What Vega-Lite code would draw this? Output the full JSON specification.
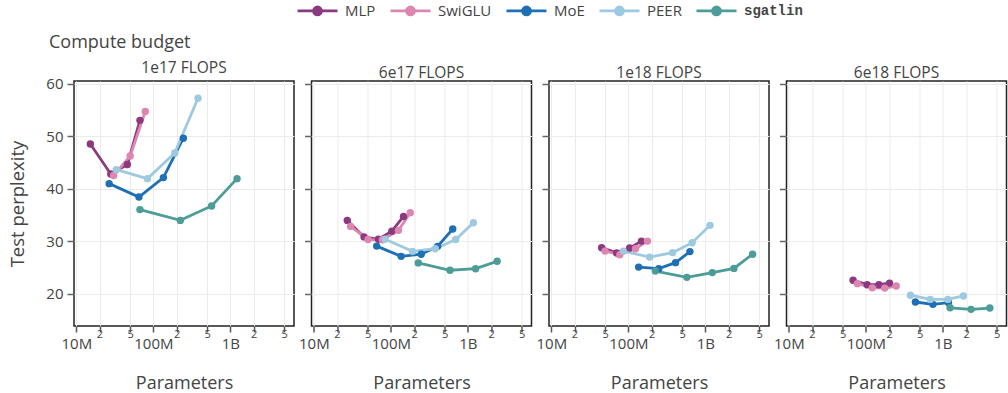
{
  "$schema": "https://vega.github.io/schema/vega-lite/v6.json",
  "padding": {"left": 8, "top": 3, "right": 0, "bottom": 0},
  "background": "white",
  "config": {
    "font": "Open Sans",
    "view": {"stroke": "#222", "strokeWidth": 1.5},
    "title": {"color": "#444", "fontWeight": "normal"}
  },
  "title": {"text": "Compute budget", "anchor": "start", "frame": "group", "fontSize": 18, "fontWeight": "normal", "color": "#444", "offset": 8, "dx": -25, "dy": 57},
  "data": {"values": [
    {"budget": "1e17 FLOPS", "model": "MLP", "params": 15.2e6, "ppl": 48.5},
    {"budget": "1e17 FLOPS", "model": "MLP", "params": 28e6, "ppl": 42.8},
    {"budget": "1e17 FLOPS", "model": "MLP", "params": 46e6, "ppl": 44.6},
    {"budget": "1e17 FLOPS", "model": "MLP", "params": 67e6, "ppl": 53.0},
    {"budget": "1e17 FLOPS", "model": "SwiGLU", "params": 30.5e6, "ppl": 42.5},
    {"budget": "1e17 FLOPS", "model": "SwiGLU", "params": 50e6, "ppl": 46.2},
    {"budget": "1e17 FLOPS", "model": "SwiGLU", "params": 78.5e6, "ppl": 54.7},
    {"budget": "1e17 FLOPS", "model": "MoE", "params": 26.7e6, "ppl": 40.95},
    {"budget": "1e17 FLOPS", "model": "MoE", "params": 65e6, "ppl": 38.4},
    {"budget": "1e17 FLOPS", "model": "MoE", "params": 135e6, "ppl": 42.1},
    {"budget": "1e17 FLOPS", "model": "MoE", "params": 245e6, "ppl": 49.6},
    {"budget": "1e17 FLOPS", "model": "PEER", "params": 33e6, "ppl": 43.6},
    {"budget": "1e17 FLOPS", "model": "PEER", "params": 84e6, "ppl": 41.9},
    {"budget": "1e17 FLOPS", "model": "PEER", "params": 190e6, "ppl": 46.8},
    {"budget": "1e17 FLOPS", "model": "PEER", "params": 380e6, "ppl": 57.2},
    {"budget": "1e17 FLOPS", "model": "sgatlin", "params": 67e6, "ppl": 36.0},
    {"budget": "1e17 FLOPS", "model": "sgatlin", "params": 224e6, "ppl": 33.95},
    {"budget": "1e17 FLOPS", "model": "sgatlin", "params": 571e6, "ppl": 36.7},
    {"budget": "1e17 FLOPS", "model": "sgatlin", "params": 1.22e9, "ppl": 41.9},

    {"budget": "6e17 FLOPS", "model": "MLP", "params": 27.2e6, "ppl": 33.95},
    {"budget": "6e17 FLOPS", "model": "MLP", "params": 44.9e6, "ppl": 30.8},
    {"budget": "6e17 FLOPS", "model": "MLP", "params": 68.9e6, "ppl": 30.35},
    {"budget": "6e17 FLOPS", "model": "MLP", "params": 103e6, "ppl": 31.9},
    {"budget": "6e17 FLOPS", "model": "MLP", "params": 146e6, "ppl": 34.7},
    {"budget": "6e17 FLOPS", "model": "SwiGLU", "params": 30e6, "ppl": 32.8},
    {"budget": "6e17 FLOPS", "model": "SwiGLU", "params": 50.6e6, "ppl": 30.3},
    {"budget": "6e17 FLOPS", "model": "SwiGLU", "params": 77.6e6, "ppl": 30.25},
    {"budget": "6e17 FLOPS", "model": "SwiGLU", "params": 125.6e6, "ppl": 32.05},
    {"budget": "6e17 FLOPS", "model": "SwiGLU", "params": 178.6e6, "ppl": 35.4},
    {"budget": "6e17 FLOPS", "model": "MoE", "params": 65.5e6, "ppl": 29.05},
    {"budget": "6e17 FLOPS", "model": "MoE", "params": 136e6, "ppl": 27.1},
    {"budget": "6e17 FLOPS", "model": "MoE", "params": 248e6, "ppl": 27.5},
    {"budget": "6e17 FLOPS", "model": "MoE", "params": 405e6, "ppl": 29.0},
    {"budget": "6e17 FLOPS", "model": "MoE", "params": 636e6, "ppl": 32.3},
    {"budget": "6e17 FLOPS", "model": "PEER", "params": 84.4e6, "ppl": 30.35},
    {"budget": "6e17 FLOPS", "model": "PEER", "params": 191e6, "ppl": 28.05},
    {"budget": "6e17 FLOPS", "model": "PEER", "params": 378e6, "ppl": 28.55},
    {"budget": "6e17 FLOPS", "model": "PEER", "params": 695e6, "ppl": 30.3},
    {"budget": "6e17 FLOPS", "model": "PEER", "params": 1.18e9, "ppl": 33.5},
    {"budget": "6e17 FLOPS", "model": "sgatlin", "params": 227e6, "ppl": 25.85},
    {"budget": "6e17 FLOPS", "model": "sgatlin", "params": 586e6, "ppl": 24.45},
    {"budget": "6e17 FLOPS", "model": "sgatlin", "params": 1.26e9, "ppl": 24.75},
    {"budget": "6e17 FLOPS", "model": "sgatlin", "params": 2.4e9, "ppl": 26.15},

    {"budget": "1e18 FLOPS", "model": "MLP", "params": 45e6, "ppl": 28.75},
    {"budget": "1e18 FLOPS", "model": "MLP", "params": 70.5e6, "ppl": 27.75},
    {"budget": "1e18 FLOPS", "model": "MLP", "params": 104e6, "ppl": 28.7},
    {"budget": "1e18 FLOPS", "model": "MLP", "params": 148e6, "ppl": 30.0},
    {"budget": "1e18 FLOPS", "model": "SwiGLU", "params": 49.8e6, "ppl": 28.1},
    {"budget": "1e18 FLOPS", "model": "SwiGLU", "params": 77.6e6, "ppl": 27.4},
    {"budget": "1e18 FLOPS", "model": "SwiGLU", "params": 124e6, "ppl": 28.55},
    {"budget": "1e18 FLOPS", "model": "SwiGLU", "params": 177e6, "ppl": 30.0},
    {"budget": "1e18 FLOPS", "model": "MoE", "params": 136e6, "ppl": 25.05},
    {"budget": "1e18 FLOPS", "model": "MoE", "params": 248e6, "ppl": 24.75},
    {"budget": "1e18 FLOPS", "model": "MoE", "params": 410e6, "ppl": 25.9},
    {"budget": "1e18 FLOPS", "model": "MoE", "params": 630e6, "ppl": 28.0},
    {"budget": "1e18 FLOPS", "model": "PEER", "params": 86e6, "ppl": 28.1},
    {"budget": "1e18 FLOPS", "model": "PEER", "params": 189e6, "ppl": 26.95},
    {"budget": "1e18 FLOPS", "model": "PEER", "params": 375e6, "ppl": 27.8},
    {"budget": "1e18 FLOPS", "model": "PEER", "params": 673e6, "ppl": 29.7},
    {"budget": "1e18 FLOPS", "model": "PEER", "params": 1.15e9, "ppl": 33.0},
    {"budget": "1e18 FLOPS", "model": "sgatlin", "params": 224e6, "ppl": 24.3},
    {"budget": "1e18 FLOPS", "model": "sgatlin", "params": 575e6, "ppl": 23.1},
    {"budget": "1e18 FLOPS", "model": "sgatlin", "params": 1.23e9, "ppl": 24.0},
    {"budget": "1e18 FLOPS", "model": "sgatlin", "params": 2.35e9, "ppl": 24.8},
    {"budget": "1e18 FLOPS", "model": "sgatlin", "params": 4.1e9, "ppl": 27.5},

    {"budget": "6e18 FLOPS", "model": "MLP", "params": 68.3e6, "ppl": 22.55},
    {"budget": "6e18 FLOPS", "model": "MLP", "params": 104e6, "ppl": 21.7},
    {"budget": "6e18 FLOPS", "model": "MLP", "params": 148e6, "ppl": 21.7},
    {"budget": "6e18 FLOPS", "model": "MLP", "params": 203e6, "ppl": 22.0},
    {"budget": "6e18 FLOPS", "model": "SwiGLU", "params": 77.6e6, "ppl": 21.9},
    {"budget": "6e18 FLOPS", "model": "SwiGLU", "params": 121e6, "ppl": 21.1},
    {"budget": "6e18 FLOPS", "model": "SwiGLU", "params": 176e6, "ppl": 21.05},
    {"budget": "6e18 FLOPS", "model": "SwiGLU", "params": 248e6, "ppl": 21.45},
    {"budget": "6e18 FLOPS", "model": "MoE", "params": 440e6, "ppl": 18.4},
    {"budget": "6e18 FLOPS", "model": "MoE", "params": 743e6, "ppl": 17.95},
    {"budget": "6e18 FLOPS", "model": "MoE", "params": 1.18e9, "ppl": 18.3},
    {"budget": "6e18 FLOPS", "model": "PEER", "params": 379e6, "ppl": 19.7},
    {"budget": "6e18 FLOPS", "model": "PEER", "params": 686e6, "ppl": 18.9},
    {"budget": "6e18 FLOPS", "model": "PEER", "params": 1.16e9, "ppl": 18.9},
    {"budget": "6e18 FLOPS", "model": "PEER", "params": 1.85e9, "ppl": 19.55},
    {"budget": "6e18 FLOPS", "model": "sgatlin", "params": 1.24e9, "ppl": 17.3},
    {"budget": "6e18 FLOPS", "model": "sgatlin", "params": 2.32e9, "ppl": 17.0},
    {"budget": "6e18 FLOPS", "model": "sgatlin", "params": 4.07e9, "ppl": 17.25}
  ]},
  "bounds": "flush",
  "spacing": 17.5,
  "hconcat": [
    {
      "width": 220, "height": 245,
      "title": {"text": "1e17 FLOPS", "anchor": "middle", "fontSize": 15.5, "offset": 0},
      "transform": [{"filter": "datum.budget == '1e17 FLOPS'"}],
      "mark": {"type": "line", "strokeWidth": 2.8, "point": {"filled": true, "size": 55, "opacity": 1}},
      "encoding": {
        "x": {"field": "params", "type": "quantitative", "scale": {"type": "log", "domain": [9.33e6, 6.7e9], "nice": false},
          "axis": {"values": [1e7, 2e7, 5e7, 1e8, 2e8, 5e8, 1e9, 2e9, 5e9],
            "labelExpr": "datum.value == 1e7 ? '10M' : datum.value == 1e8 ? '100M' : datum.value == 1e9 ? '1B' : datum.value < 1e8 ? format(datum.value/1e7, 'd') : datum.value < 1e9 ? format(datum.value/1e8, 'd') : format(datum.value/1e9, 'd')",
            "labelFontSize": {"condition": {"test": "datum.value == 1e7 || datum.value == 1e8 || datum.value == 1e9", "value": 15}, "value": 11},
            "labelPadding": {"condition": {"test": "datum.value == 1e7 || datum.value == 1e8 || datum.value == 1e9", "value": 4}, "value": -4},
            "labelColor": "#444", "labelOverlap": false, "labelFlush": false, "labelBound": false,
            "grid": true, "gridColor": "#ebebeb", "domain": false, "tickColor": "#555", "tickSize": 6, "tickWidth": 1.5,
            "title": "Parameters", "titleFontSize": 18, "titleFontWeight": "normal", "titleColor": "#444", "titlePadding": 23}},
        "y": {"field": "ppl", "type": "quantitative", "scale": {"domain": [13.83, 60.5], "nice": false, "zero": false},
          "axis": {"values": [20, 30, 40, 50, 60], "title": "Test perplexity", "titleFontSize": 18.5, "titleFontWeight": "normal", "titleColor": "#444", "titlePadding": 18,
            "labelFontSize": 15, "labelColor": "#444", "labelPadding": 4, "tickSize": 7, "tickColor": "#666", "tickWidth": 1.5,
            "grid": true, "gridColor": "#ebebeb", "domain": false}},
        "color": {"field": "model", "type": "nominal",
          "scale": {"domain": ["MLP", "SwiGLU", "MoE", "PEER", "sgatlin"], "range": ["#8c3a7f", "#de86b2", "#1f6fb6", "#9ecae1", "#4c9c98"]},
          "legend": {"orient": "none", "direction": "horizontal", "legendX": 236, "legendY": -78, "title": null, "padding": 0,
            "symbolType": "M-4,0L4,0M-0.8,0A0.8,0.8,0,1,1,0.8,0A0.8,0.8,0,1,1,-0.8,0Z", "symbolSize": 100, "symbolStrokeWidth": 2.8,
            "labelFontSize": 15, "labelColor": "#444", "labelOffset": 20, "columnPadding": 8,
            "encode": {
              "symbols": {"update": {"fill": {"scale": "color", "field": "value"}, "stroke": {"scale": "color", "field": "value"}, "opacity": {"value": 1}}},
              "labels": {"update": {"font": {"signal": "datum.value == 'sgatlin' ? 'Liberation Mono' : 'Open Sans'"}, "fontWeight": {"signal": "datum.value == 'sgatlin' ? 'bold' : 'normal'"}, "fontSize": {"signal": "datum.value == 'sgatlin' ? 14 : 15"}}}
            }}}
      }
    },
    {
      "width": 220, "height": 245,
      "title": {"text": "6e17 FLOPS", "anchor": "middle", "fontSize": 15.5, "offset": 0},
      "transform": [{"filter": "datum.budget == '6e17 FLOPS'"}],
      "mark": {"type": "line", "strokeWidth": 2.8, "point": {"filled": true, "size": 55, "opacity": 1}},
      "encoding": {
        "x": {"field": "params", "type": "quantitative", "scale": {"type": "log", "domain": [9.33e6, 6.7e9], "nice": false},
          "axis": {"values": [1e7, 2e7, 5e7, 1e8, 2e8, 5e8, 1e9, 2e9, 5e9],
            "labelExpr": "datum.value == 1e7 ? '10M' : datum.value == 1e8 ? '100M' : datum.value == 1e9 ? '1B' : datum.value < 1e8 ? format(datum.value/1e7, 'd') : datum.value < 1e9 ? format(datum.value/1e8, 'd') : format(datum.value/1e9, 'd')",
            "labelFontSize": {"condition": {"test": "datum.value == 1e7 || datum.value == 1e8 || datum.value == 1e9", "value": 15}, "value": 11},
            "labelPadding": {"condition": {"test": "datum.value == 1e7 || datum.value == 1e8 || datum.value == 1e9", "value": 4}, "value": -4},
            "labelColor": "#444", "labelOverlap": false, "labelFlush": false, "labelBound": false,
            "grid": true, "gridColor": "#ebebeb", "domain": false, "tickColor": "#555", "tickSize": 6, "tickWidth": 1.5,
            "title": "Parameters", "titleFontSize": 18, "titleFontWeight": "normal", "titleColor": "#444", "titlePadding": 23}},
        "y": {"field": "ppl", "type": "quantitative", "scale": {"domain": [13.83, 60.5], "nice": false, "zero": false},
          "axis": {"values": [20, 30, 40, 50, 60], "title": null, "labels": false, "tickSize": 7, "tickColor": "#666", "tickWidth": 1.5,
            "grid": true, "gridColor": "#ebebeb", "domain": false}},
        "color": {"field": "model", "type": "nominal"}
      }
    },
    {
      "width": 220, "height": 245,
      "title": {"text": "1e18 FLOPS", "anchor": "middle", "fontSize": 15.5, "offset": 0},
      "transform": [{"filter": "datum.budget == '1e18 FLOPS'"}],
      "mark": {"type": "line", "strokeWidth": 2.8, "point": {"filled": true, "size": 55, "opacity": 1}},
      "encoding": {
        "x": {"field": "params", "type": "quantitative", "scale": {"type": "log", "domain": [9.33e6, 6.7e9], "nice": false},
          "axis": {"values": [1e7, 2e7, 5e7, 1e8, 2e8, 5e8, 1e9, 2e9, 5e9],
            "labelExpr": "datum.value == 1e7 ? '10M' : datum.value == 1e8 ? '100M' : datum.value == 1e9 ? '1B' : datum.value < 1e8 ? format(datum.value/1e7, 'd') : datum.value < 1e9 ? format(datum.value/1e8, 'd') : format(datum.value/1e9, 'd')",
            "labelFontSize": {"condition": {"test": "datum.value == 1e7 || datum.value == 1e8 || datum.value == 1e9", "value": 15}, "value": 11},
            "labelPadding": {"condition": {"test": "datum.value == 1e7 || datum.value == 1e8 || datum.value == 1e9", "value": 4}, "value": -4},
            "labelColor": "#444", "labelOverlap": false, "labelFlush": false, "labelBound": false,
            "grid": true, "gridColor": "#ebebeb", "domain": false, "tickColor": "#555", "tickSize": 6, "tickWidth": 1.5,
            "title": "Parameters", "titleFontSize": 18, "titleFontWeight": "normal", "titleColor": "#444", "titlePadding": 23}},
        "y": {"field": "ppl", "type": "quantitative", "scale": {"domain": [13.83, 60.5], "nice": false, "zero": false},
          "axis": {"values": [20, 30, 40, 50, 60], "title": null, "labels": false, "tickSize": 7, "tickColor": "#666", "tickWidth": 1.5,
            "grid": true, "gridColor": "#ebebeb", "domain": false}},
        "color": {"field": "model", "type": "nominal"}
      }
    },
    {
      "width": 220, "height": 245,
      "title": {"text": "6e18 FLOPS", "anchor": "middle", "fontSize": 15.5, "offset": 0},
      "transform": [{"filter": "datum.budget == '6e18 FLOPS'"}],
      "mark": {"type": "line", "strokeWidth": 2.8, "point": {"filled": true, "size": 55, "opacity": 1}},
      "encoding": {
        "x": {"field": "params", "type": "quantitative", "scale": {"type": "log", "domain": [9.33e6, 6.7e9], "nice": false},
          "axis": {"values": [1e7, 2e7, 5e7, 1e8, 2e8, 5e8, 1e9, 2e9, 5e9],
            "labelExpr": "datum.value == 1e7 ? '10M' : datum.value == 1e8 ? '100M' : datum.value == 1e9 ? '1B' : datum.value < 1e8 ? format(datum.value/1e7, 'd') : datum.value < 1e9 ? format(datum.value/1e8, 'd') : format(datum.value/1e9, 'd')",
            "labelFontSize": {"condition": {"test": "datum.value == 1e7 || datum.value == 1e8 || datum.value == 1e9", "value": 15}, "value": 11},
            "labelPadding": {"condition": {"test": "datum.value == 1e7 || datum.value == 1e8 || datum.value == 1e9", "value": 4}, "value": -4},
            "labelColor": "#444", "labelOverlap": false, "labelFlush": false, "labelBound": false,
            "grid": true, "gridColor": "#ebebeb", "domain": false, "tickColor": "#555", "tickSize": 6, "tickWidth": 1.5,
            "title": "Parameters", "titleFontSize": 18, "titleFontWeight": "normal", "titleColor": "#444", "titlePadding": 23}},
        "y": {"field": "ppl", "type": "quantitative", "scale": {"domain": [13.83, 60.5], "nice": false, "zero": false},
          "axis": {"values": [20, 30, 40, 50, 60], "title": null, "labels": false, "tickSize": 7, "tickColor": "#666", "tickWidth": 1.5,
            "grid": true, "gridColor": "#ebebeb", "domain": false}},
        "color": {"field": "model", "type": "nominal"}
      }
    }
  ]
}
